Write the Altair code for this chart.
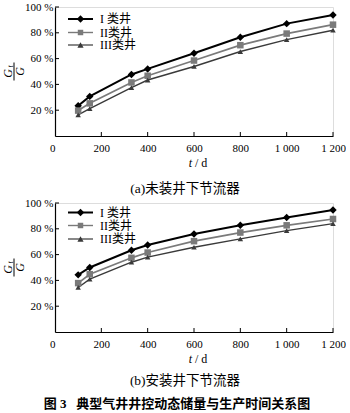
import altair as alt
import pandas as pd

# ---------------- data ----------------
t_days = [100, 150, 330, 400, 600, 800, 1000, 1200]
series_names = ["I 类井", "II类井", "III类井"]

# (a) without downhole choke
a_I = [23.5, 30.7, 47.7, 52.0, 64.2, 76.6, 87.1, 93.8]
a_II = [19.7, 25.3, 41.5, 46.7, 58.5, 70.4, 79.4, 86.3]
a_III = [16.4, 21.2, 37.5, 43.4, 53.9, 65.5, 74.7, 82.0]

# (b) with downhole choke
b_I = [44.3, 50.0, 63.4, 67.5, 76.0, 82.7, 88.7, 94.6]
b_II = [37.9, 44.8, 57.5, 61.6, 70.4, 77.1, 82.7, 87.6]
b_III = [34.5, 41.0, 54.1, 58.0, 65.7, 72.2, 78.6, 84.0]

x_ticks = [0, 200, 400, 600, 800, 1000, 1200]
y_ticks = [20, 40, 60, 80, 100]

caption_a = "(a)未装井下节流器"
caption_b = "(b)安装井下节流器"
fig_title = "图\u00a03\u00a0\u00a0\u00a0典型气井井控动态储量与生产时间关系图"

colors = ["#000000", "#7a7a7a", "#3a3a3a"]
shapes = ["diamond", "square", "triangle-up"]
sizes = [55, 30, 38]
widths = [2.0, 1.4, 1.2]

SERIF = "Liberation Serif, Noto Sans CJK SC"
W, H = 278, 129


def make_df(vals):
    rows = []
    for name, ys in zip(series_names, vals):
        for t, v in zip(t_days, ys):
            rows.append({"series": name, "t": t, "v": v})
    return pd.DataFrame(rows)


def panel(vals, caption, legend_ys, cap_dy, extra_title=None):
    df = make_df(vals)
    xs = alt.Scale(domain=[0, 1200], nice=False)
    ys = alt.Scale(domain=[0, 100], nice=False)
    x_enc = alt.X(
        "t:Q", scale=xs, title=None,
        axis=alt.Axis(values=x_ticks, ticks=False, grid=False, labelFlush=False, labelOverlap=False,
                      labelExpr="replace(format(datum.value, ','), ',', ' ')",
                      labelAlign={"condition": {"test": "datum.value == 0", "value": "right"}, "value": "center"},
                      labelPadding=6, domainColor="#000", domainWidth=1.2,
                      labelFont=SERIF, labelFontSize=11, labelColor="#000"))
    y_enc = alt.Y(
        "v:Q", scale=ys, title=None,
        axis=alt.Axis(values=y_ticks, ticks=False, grid=False, labelOverlap=False,
                      labelExpr="datum.value + ' %'", labelPadding=2,
                      domainColor="#000", domainWidth=1.2,
                      labelFont=SERIF, labelFontSize=11, labelColor="#000"))
    color = alt.Color("series:N", scale=alt.Scale(domain=series_names, range=colors), legend=None)

    lines = alt.Chart(df).mark_line().encode(
        x=x_enc, y=y_enc, color=color,
        strokeWidth=alt.StrokeWidth("series:N", scale=alt.Scale(domain=series_names, range=widths), legend=None),
    )
    pts = alt.Chart(df).mark_point(filled=True, opacity=1).encode(
        x=x_enc, y=y_enc, color=color,
        shape=alt.Shape("series:N", scale=alt.Scale(domain=series_names, range=shapes), legend=None),
        size=alt.Size("series:N", scale=alt.Scale(domain=series_names, range=sizes), legend=None),
    )
    # inward ticks
    ytk = alt.Chart(pd.DataFrame({"v": y_ticks})).mark_rule(color="#000", strokeWidth=1).encode(
        y=y_enc, x=alt.value(0), x2=alt.value(4))
    xtk = alt.Chart(pd.DataFrame({"t": x_ticks[1:]})).mark_rule(color="#000", strokeWidth=1).encode(
        x=x_enc, y=alt.value(H), y2=alt.value(H - 4))

    layers = [lines, pts, ytk, xtk]

    # legend (manual, line + marker + label)
    for i, name in enumerate(series_names):
        d = pd.DataFrame({"label": [name]})
        ly = legend_ys[i]
        layers.append(alt.Chart(d).mark_rule(color=colors[i], strokeWidth=widths[i]).encode(
            x=alt.value(13), x2=alt.value(38), y=alt.value(ly)))
        layers.append(alt.Chart(d).mark_point(filled=True, opacity=1, color=colors[i],
                                              shape=shapes[i], size=sizes[i]).encode(
            x=alt.value(25.5), y=alt.value(ly)))
        layers.append(alt.Chart(d).mark_text(align="left", baseline="middle", font=SERIF,
                                             fontSize=12, color="#000").encode(
            x=alt.value(45), y=alt.value(ly), text="label:N"))

    # y title: fraction Gt / G, rotated
    one = pd.DataFrame({"a": [0]})
    cy = H / 2
    layers.append(alt.Chart(one).mark_text(angle=270, align="center", baseline="middle", font=SERIF,
                                           fontStyle="italic", fontSize=12, color="#000", text="G").encode(
        x=alt.value(-47.5), y=alt.value(cy + 2)))
    layers.append(alt.Chart(one).mark_text(angle=270, align="center", baseline="middle", font=SERIF,
                                           fontStyle="italic", fontSize=8, color="#000", text="t").encode(
        x=alt.value(-44.5), y=alt.value(cy - 5)))
    layers.append(alt.Chart(one).mark_rule(color="#000", strokeWidth=1).encode(
        x=alt.value(-41), y=alt.value(cy - 9), y2=alt.value(cy + 9)))
    layers.append(alt.Chart(one).mark_text(angle=270, align="center", baseline="middle", font=SERIF,
                                           fontStyle="italic", fontSize=12, color="#000", text="G").encode(
        x=alt.value(-35.5), y=alt.value(cy)))

    # x title "t / d"
    layers.append(alt.Chart(one).mark_text(align="right", baseline="middle", font=SERIF,
                                           fontStyle="italic", fontSize=12, color="#000", text="t").encode(
        x=alt.value(W / 2 - 2), y=alt.value(H + 26.5)))
    layers.append(alt.Chart(one).mark_text(align="left", baseline="middle", font=SERIF,
                                           fontSize=12, color="#000", text="/ d").encode(
        x=alt.value(W / 2 + 1), y=alt.value(H + 26.5)))
    # caption
    layers.append(alt.Chart(pd.DataFrame({"c": [caption]})).mark_text(
        align="center", baseline="middle", font=SERIF, fontSize=13.5, color="#000").encode(
        x=alt.value(130), y=alt.value(H + cap_dy), text="c:N"))
    if extra_title:
        layers.append(alt.Chart(pd.DataFrame({"c": [extra_title]})).mark_text(
            align="center", baseline="middle", font=SERIF, fontSize=13, fontWeight="bold",
            color="#000").encode(x=alt.value(122), y=alt.value(H + 72), text="c:N"))

    return alt.layer(*layers).properties(width=W, height=H)


top = panel([a_I, a_II, a_III], caption_a, [12, 25.5, 38], 53)
bottom = panel([b_I, b_II, b_III], caption_b, [9.5, 22.5, 36], 49, extra_title=fig_title)

chart = alt.vconcat(top, bottom, spacing=0).properties(
    padding={"left": 1, "top": 0, "right": 0, "bottom": 0}
).configure_view(stroke=None).configure_axis(labelOverlap=False).configure(background="white")

chart.save("out.html", embed_options={"renderer": "svg", "actions": False})
